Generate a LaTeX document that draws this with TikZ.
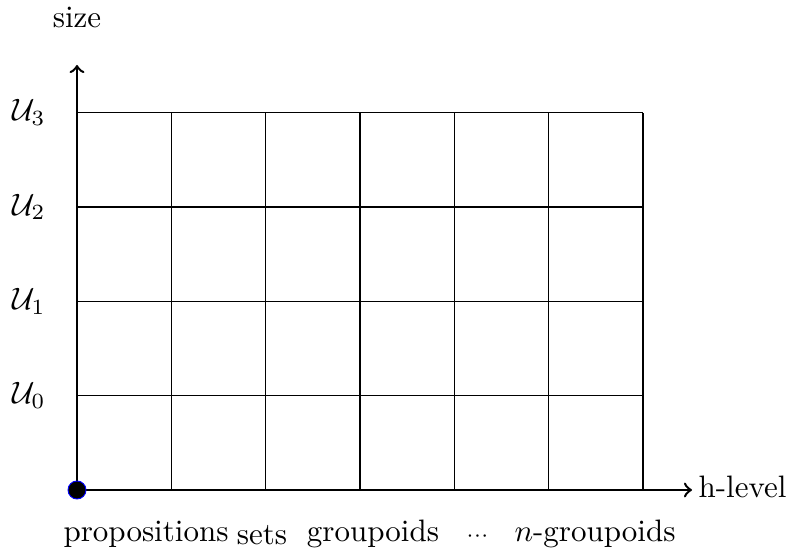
\documentclass[tikz,border=0pt]{standalone}
\begin{document}
\begin{tikzpicture}[x=0.3226pt,y=0.3226pt,
  gridline/.style={draw=black,line width=0.4pt},
  axis/.style={draw=black,line width=0.8pt,->},
  lbl/.style={inner sep=0pt,anchor=base}]
\def\g{94.33}
\useasboundingbox (-77,-62) rectangle (711,490);
% grid
\foreach \i in {1,...,6} \draw[gridline] (\i*\g,0) -- (\i*\g,4*\g);
\foreach \j in {1,...,4} \draw[gridline] (0,\j*\g) -- (6*\g,\j*\g);
% axes
\coordinate (O) at (0,0);
\coordinate (xend) at (615,0);
\coordinate (yend) at (0,425);
\draw[axis] (O) -- (xend);
\draw[axis] (O) -- (yend);
\fill[black,draw=blue,line width=0.3pt] (O) circle (2.9pt);
% axis labels
\node[lbl] (size) at (0,462) {size};
\node[inner sep=0pt,anchor=base west] (hlevel) at (621,-8) {h-level};
% universe labels
\foreach \j in {0,...,3}
  \node (U\j) at (-48,{(\j+1)*\g}) {$\mathcal{U}_{\j}$};
% h-level names
\node[lbl] (props) at (69,-52) {propositions};
\node[lbl] (sets) at (185,-55) {sets};
\node[lbl] (grpd) at (296,-52) {groupoids};
\node[lbl] (dots) at (400.5,-52) {$\scriptstyle\cdots$};
\node[lbl] (ngrpd) at (518,-52) {$n$-groupoids};
\end{tikzpicture}
\end{document}
